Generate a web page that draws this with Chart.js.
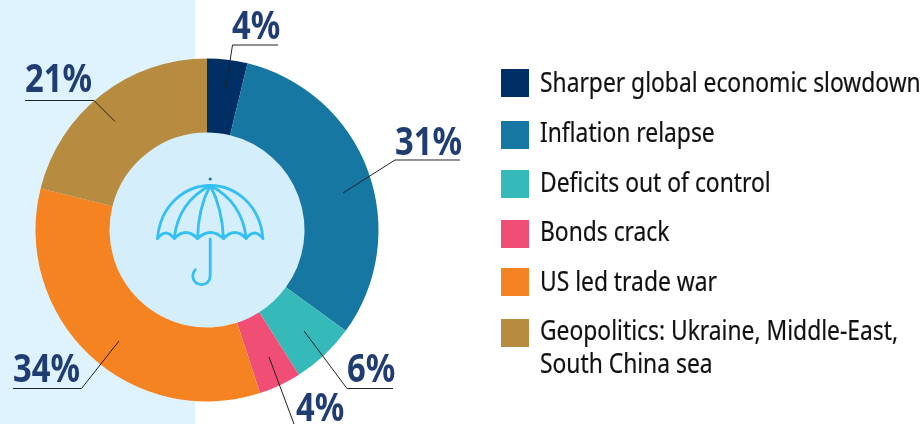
<!DOCTYPE html>
<html><head><meta charset="utf-8">
<script src="https://cdn.jsdelivr.net/npm/chart.js@4"></script>
<style>
html,body{margin:0;padding:0;background:#fff;width:924px;height:424px;overflow:hidden}
#wrap{position:relative;width:924px;height:424px;background:linear-gradient(to right,#def3fe 0,#def3fe 195px,#fff 195px)}
canvas{position:absolute;left:0;top:0}
.sw{position:absolute;left:501px;width:28px;height:28px}
.tx{position:absolute;left:540px;font:400 28px/33px "Noto Sans";color:#111;-webkit-text-stroke:0.2px #111;white-space:pre;transform-origin:0 0;transform:scaleX(0.815)}
</style></head><body>
<div id="wrap"><canvas id="c" width="924" height="424"></canvas><div id="legend"></div></div>
<script>
const categories=["Sharper global economic slowdown","Inflation relapse","Deficits out of control","Bonds crack","US led trade war","Geopolitics: Ukraine, Middle-East,\nSouth China sea"];
const values=[3.8,31.2,6,4,33.9,21.1];
const colors=["#002f66","#1777a3","#35bab9","#f04e75","#f58322","#b88c40"];
const labelText=["4%","31%","6%","4%","34%","21%"];
// annotation layout: text left x, baseline y, leader polyline
const labelPos=[[232,39],[395,155],[347,382],[296,421],[13,382],[25,92]];
const leaders=[
 [[278,45],[232.5,45],[225.5,89.5]],
 [[460,160],[395,160],[343,193]],
 [[393,388.5],[347,388.5],[304,331]],
 [[294,424],[269,357]],
 [[13,388.5],[81.5,388.5],[119,341]],
 [[25,100.5],[94,100.5],[115,121.5]]
];
const legendTop=[69,121,170,220,268,319];
const legendText=[65,115,165,214,264,313];

const legendEl=document.getElementById('legend');
categories.forEach((c,i)=>{
 const s=document.createElement('div');s.className='sw';s.style.top=legendTop[i]+'px';s.style.background=colors[i];legendEl.appendChild(s);
 const t=document.createElement('div');t.className='tx';t.style.top=legendText[i]+'px';t.textContent=c;legendEl.appendChild(t);
});

const decor={id:'decor',
 beforeDatasetsDraw(ch){
  const a=ch.getDatasetMeta(0).data[0],ctx=ch.ctx;
  ctx.save();ctx.fillStyle='#d5eefb';ctx.beginPath();ctx.arc(a.x,a.y,a.innerRadius+0.5,0,Math.PI*2);ctx.fill();
  drawUmbrella(ctx,a.x+3.2,a.y);
  ctx.restore();
 },
 afterDatasetsDraw(ch){
  const ctx=ch.ctx;ctx.save();
  leaders.forEach(l=>{ctx.beginPath();l.forEach((p,i)=>i?ctx.lineTo(p[0],p[1]):ctx.moveTo(p[0],p[1]));ctx.strokeStyle='#222';ctx.lineWidth=1;ctx.stroke();});
  ctx.fillStyle='#1f3d73';ctx.font='700 39px "Noto Sans"';ctx.textBaseline='alphabetic';ctx.textAlign='left';
  labelText.forEach((t,i)=>{ctx.save();ctx.translate(labelPos[i][0],labelPos[i][1]);ctx.scale(0.84,1);ctx.fillText(t,0,0);ctx.restore();});
  ctx.restore();
 }};
function drawUmbrella(ctx,cx,cy){
 const ox=cx,oy=cy;
 const P=(x,y)=>[ox+x,oy+y];
 ctx.strokeStyle='#35c0f5';ctx.lineWidth=2.8;ctx.lineCap='round';ctx.lineJoin='round';
 const pts=[-52.7,-36,-12.7,13.3,36,52.7],py=8.5,top=P(0,-44.5);
 ctx.beginPath();ctx.moveTo(...P(-52.7,py));ctx.bezierCurveTo(...P(-50,-24),...P(-26,-44.5),...top);ctx.bezierCurveTo(...P(26,-44.5),...P(50,-24),...P(52.7,py));ctx.stroke();
 ctx.beginPath();
 for(let i=0;i<5;i++){ctx.moveTo(...P(pts[i],py));ctx.quadraticCurveTo(...P((pts[i]+pts[i+1])/2,py-(i==0||i==4?11:12)),...P(pts[i+1],py));}
 ctx.stroke();
 ctx.beginPath();
 ctx.moveTo(...top);ctx.quadraticCurveTo(...P(-32,-28),...P(-36,py));
 ctx.moveTo(...top);ctx.quadraticCurveTo(...P(-12,-22),...P(-12.7,py));
 ctx.moveTo(...top);ctx.quadraticCurveTo(...P(12,-22),...P(13.3,py));
 ctx.moveTo(...top);ctx.quadraticCurveTo(...P(32,-28),...P(36,py));
 ctx.stroke();
 ctx.beginPath();ctx.moveTo(...P(0,9));ctx.lineTo(...P(0,46));ctx.arc(...P(-8.7,46),8.7,0,Math.PI*1.25,false);ctx.stroke();
 ctx.fillStyle='#1777a3';ctx.beginPath();ctx.arc(...P(0,-51),1.6,0,Math.PI*2);ctx.fill();
}
new Chart(document.getElementById('c'),{
 type:'doughnut',
 data:{labels:categories,datasets:[{data:values,backgroundColor:colors,borderWidth:0}]},
 options:{responsive:false,animation:false,cutout:'56.85%',
  layout:{padding:{left:35.5,right:545.5,top:58.5,bottom:22.5}},
  plugins:{legend:{display:false},tooltip:{enabled:false}}},
 plugins:[decor]
});
</script></body></html>
